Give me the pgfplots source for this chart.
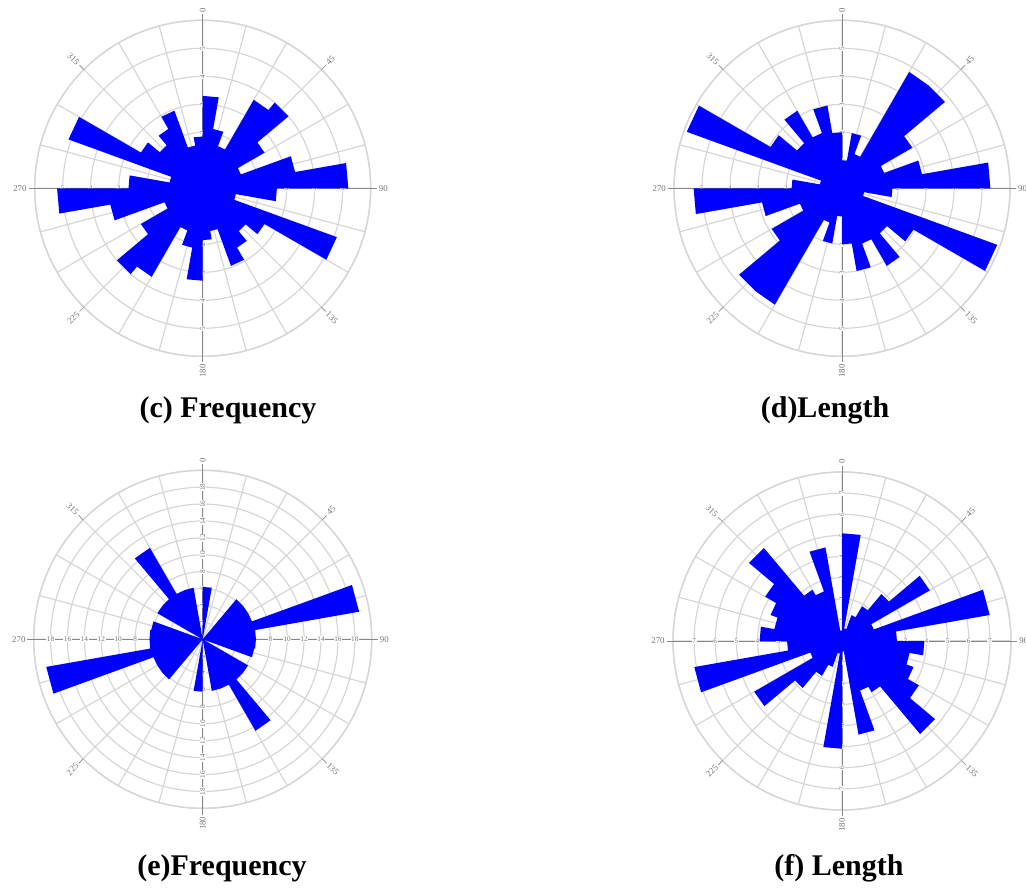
\documentclass[border=0pt]{standalone}
\usepackage{fontspec}
\setmainfont{Liberation Serif}
\usepackage{pgfplots}
\pgfplotsset{compat=1.18}
\usepgfplotslibrary{polar}
\definecolor{rosegrid}{RGB}{214,214,214}
\definecolor{roseaxis}{RGB}{135,135,135}
\definecolor{roseblue}{RGB}{0,0,255}
\pgfplotsset{rose/.style={
  scale only axis, anchor=center, clip=false,
  ymin=0,
  xtick={0,15,...,345},
  xticklabel={\relax}, yticklabel={\relax},
  xmajorgrids, ymajorgrids,
  major grid style={draw=rosegrid, line width=0.6pt},
  axis line style={draw=rosegrid, line width=0.7pt},
  major tick length=0pt,
}}
\tikzset{
  cmp/.style={font=\fontsize{4.4}{5}\selectfont, text=black!55, inner sep=0.4pt},
  rng/.style={font=\fontsize{3.6}{4}\selectfont, text=black!55, fill=white, inner sep=0.3pt},
}
% #1 rings, #2 tick end, #3 label radius, #4 ring list, #5 label factor
\newcommand{\rosedecor}[5]{%
  \draw[roseaxis, line width=0.35pt] (axis cs:0,0) -- (axis cs:0,#2);
  \draw[roseaxis, line width=0.35pt] (axis cs:90,0) -- (axis cs:90,#2);
  \draw[roseaxis, line width=0.35pt] (axis cs:180,0) -- (axis cs:180,#2);
  \draw[roseaxis, line width=0.35pt] (axis cs:270,0) -- (axis cs:270,#2);
  \draw[roseaxis, line width=0.35pt] (axis cs:45,#1) -- (axis cs:45,#2);
  \draw[roseaxis, line width=0.35pt] (axis cs:135,#1) -- (axis cs:135,#2);
  \draw[roseaxis, line width=0.35pt] (axis cs:225,#1) -- (axis cs:225,#2);
  \draw[roseaxis, line width=0.35pt] (axis cs:315,#1) -- (axis cs:315,#2);
  \node[cmp, rotate=90, anchor=west] at (axis cs:90,#3) {0};
  \node[cmp, rotate=45, anchor=west] at (axis cs:45,#3) {45};
  \node[cmp, anchor=west] at (axis cs:0,#3) {90};
  \node[cmp, rotate=-45, anchor=west] at (axis cs:-45,#3) {135};
  \node[cmp, rotate=90, anchor=east] at (axis cs:270,#3) {180};
  \node[cmp, rotate=45, anchor=east] at (axis cs:225,#3) {225};
  \node[cmp, anchor=east] at (axis cs:180,#3) {270};
  \node[cmp, rotate=-45, anchor=east] at (axis cs:135,#3) {315};
  \pgfplotsinvokeforeach{#4}{%
    \node[rng, rotate=90] at (axis cs:90,##1) {\the\numexpr#5*##1\relax};
    \node[rng, rotate=90] at (axis cs:270,##1) {\the\numexpr#5*##1\relax};
    \node[rng] at (axis cs:0,##1) {\the\numexpr#5*##1\relax};
    \node[rng] at (axis cs:180,##1) {\the\numexpr#5*##1\relax};
  }%
}
\begin{document}
\begin{tikzpicture}
\path[use as bounding box] (0,0) rectangle (513pt,445.5pt);

% (c) Frequency
\begin{polaraxis}[rose, at={(101.35pt,351.35pt)}, width=168pt, height=168pt, ymax=6, ytick={1,...,6}]
\rosedecor{6}{6.22}{6.25}{1,...,5}{1}
\addplot[draw=none, fill=roseblue, x filter/.expression={90-x}] coordinates {
(0,3.3) (10,3.3) (10,2.15) (20,2.15) (20,1.6) (30,1.6) (30,3.65) (40,3.65) (40,4.0) (50,4.0)
(50,2.55) (60,2.55) (60,1.45) (70,1.45) (70,3.35) (80,3.35) (80,5.2) (90,5.2) (90,2.65) (100,2.65)
(100,1.2) (110,1.2) (110,5.1) (120,5.1) (120,2.55) (130,2.55) (130,2.0) (140,2.0) (140,2.45) (150,2.45)
(150,2.95) (160,2.95) (160,1.55) (170,1.55) (170,1.85) (180,1.85)
(180,3.3) (190,3.3) (190,2.15) (200,2.15) (200,1.6) (210,1.6) (210,3.65) (220,3.65) (220,4.0) (230,4.0)
(230,2.55) (240,2.55) (240,1.45) (250,1.45) (250,3.35) (260,3.35) (260,5.2) (270,5.2) (270,2.65) (280,2.65)
(280,1.2) (290,1.2) (290,5.1) (300,5.1) (300,2.55) (310,2.55) (310,2.0) (320,2.0) (320,2.45) (330,2.45)
(330,2.95) (340,2.95) (340,1.55) (350,1.55) (350,1.85) (360,1.85)
} -- cycle;
\end{polaraxis}

% (d) Length
\begin{polaraxis}[rose, at={(421pt,351.35pt)}, width=168pt, height=168pt, ymax=6, ytick={1,...,6}]
\rosedecor{6}{6.22}{6.25}{1,...,5}{1}
\addplot[draw=none, fill=roseblue, x filter/.expression={90-x}] coordinates {
(0,1.0) (10,1.0) (10,2.0) (20,2.0) (20,1.3) (30,1.3) (30,4.8) (40,4.8) (40,4.8) (50,4.8)
(50,2.9) (60,2.9) (60,1.6) (70,1.6) (70,2.9) (80,2.9) (80,5.3) (90,5.3) (90,1.8) (100,1.8)
(100,0.8) (110,0.8) (110,5.9) (120,5.9) (120,2.95) (130,2.95) (130,2.1) (140,2.1) (140,3.2) (150,3.2)
(150,2.1) (160,2.1) (160,3.0) (170,3.0) (170,2.0) (180,2.0)
(180,1.0) (190,1.0) (190,2.0) (200,2.0) (200,1.3) (210,1.3) (210,4.8) (220,4.8) (220,4.8) (230,4.8)
(230,2.9) (240,2.9) (240,1.6) (250,1.6) (250,2.9) (260,2.9) (260,5.3) (270,5.3) (270,1.8) (280,1.8)
(280,0.8) (290,0.8) (290,5.9) (300,5.9) (300,2.95) (310,2.95) (310,2.1) (320,2.1) (320,3.2) (330,3.2)
(330,2.1) (340,2.1) (340,3.0) (350,3.0) (350,2.0) (360,2.0)
} -- cycle;
\end{polaraxis}

% (e) Frequency
\begin{polaraxis}[rose, at={(101.35pt,125.85pt)}, width=169pt, height=169pt, ymax=10, ytick={1,...,10}]
\rosedecor{10}{10.37}{10.42}{1,...,9}{2}
\addplot[draw=none, fill=roseblue, x filter/.expression={90-x}] coordinates {
(0,3.1) (10,3.1) (10,0) (20,0) (20,0) (30,0) (30,0) (40,0) (40,3.1) (50,3.1)
(50,3.1) (60,3.1) (60,3.1) (70,3.1) (70,9.4) (80,9.4) (80,3.15) (90,3.15) (90,3.15) (100,3.15)
(100,3.1) (110,3.1) (110,0) (120,0) (120,3.1) (130,3.1) (130,3.1) (140,3.1) (140,6.25) (150,6.25)
(150,3.1) (160,3.1) (160,3.1) (170,3.1) (170,0) (180,0)
(180,3.1) (190,3.1) (190,0) (200,0) (200,0) (210,0) (210,0) (220,0) (220,3.1) (230,3.1)
(230,3.1) (240,3.1) (240,3.1) (250,3.1) (250,9.4) (260,9.4) (260,3.15) (270,3.15) (270,3.15) (280,3.15)
(280,3.1) (290,3.1) (290,0) (300,0) (300,3.1) (310,3.1) (310,3.1) (320,3.1) (320,6.25) (330,6.25)
(330,3.1) (340,3.1) (340,3.1) (350,3.1) (350,0) (360,0)
} -- cycle;
\end{polaraxis}

% (f) Length
\begin{polaraxis}[rose, at={(421pt,125pt)}, width=169pt, height=169pt, ymax=8, ytick={1,...,8}]
\rosedecor{8}{8.3}{8.34}{1,...,7}{1}
\addplot[draw=none, fill=roseblue, x filter/.expression={90-x}] coordinates {
(0,5.1) (10,5.1) (10,0.6) (20,0.6) (20,1.3) (30,1.3) (30,1.9) (40,1.9) (40,2.9) (50,2.9)
(50,4.8) (60,4.8) (60,1.6) (70,1.6) (70,7.1) (80,7.1) (80,2.6) (90,2.6) (90,3.9) (100,3.9)
(100,3.25) (110,3.25) (110,3.6) (120,3.6) (120,4.2) (130,4.2) (130,5.75) (140,5.75) (140,2.8) (150,2.8)
(150,2.5) (160,2.5) (160,4.5) (170,4.5) (170,0.5) (180,0.5)
(180,5.1) (190,5.1) (190,0.6) (200,0.6) (200,1.3) (210,1.3) (210,1.9) (220,1.9) (220,2.9) (230,2.9)
(230,4.8) (240,4.8) (240,1.6) (250,1.6) (250,7.1) (260,7.1) (260,2.6) (270,2.6) (270,3.9) (280,3.9)
(280,3.25) (290,3.25) (290,3.6) (300,3.6) (300,4.2) (310,4.2) (310,5.75) (320,5.75) (320,2.8) (330,2.8)
(330,2.5) (340,2.5) (340,4.5) (350,4.5) (350,0.5) (360,0.5)
} -- cycle;
\end{polaraxis}

\node[font=\fontsize{15}{18}\selectfont\bfseries] at (114pt,240.5pt) {(c) Frequency};
\node[font=\fontsize{15}{18}\selectfont\bfseries] at (412.5pt,240.5pt) {(d)Length};
\node[font=\fontsize{15}{18}\selectfont\bfseries] at (111pt,11.5pt) {(e)Frequency};
\node[font=\fontsize{15}{18}\selectfont\bfseries] at (419.5pt,11.5pt) {(f) Length};
\end{tikzpicture}
\end{document}
